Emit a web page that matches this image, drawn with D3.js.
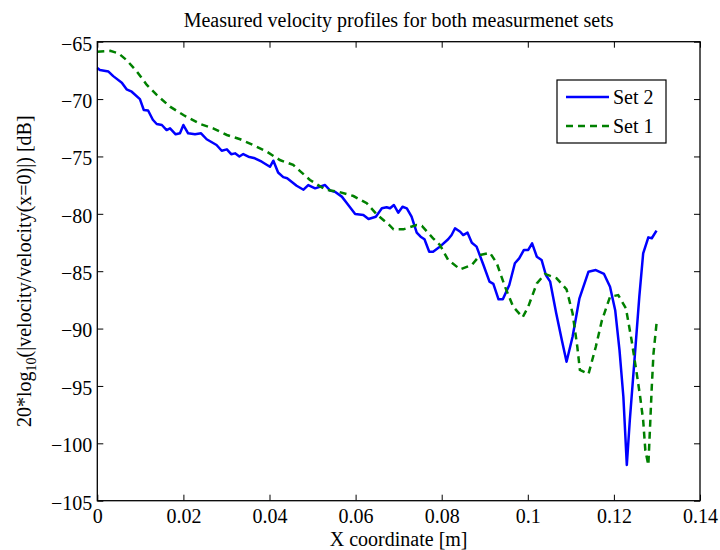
<!DOCTYPE html>
<html>
<head>
<meta charset="utf-8">
<script src="https://cdn.jsdelivr.net/npm/d3@7"></script>
<style>
  body { margin: 0; background: #ffffff; }
  svg text { font-family: "Liberation Serif", "Times New Roman", serif; fill: #000; }
</style>
</head>
<body>
<div id="chart"></div>
<script>
// velocity profiles, values

const set2X = [0, 0.0006, 0.0026, 0.0037, 0.0057, 0.0068, 0.008, 0.0099, 0.0108, 0.0118,
  0.0129, 0.0138, 0.015, 0.0161, 0.0169, 0.0182, 0.0192, 0.02, 0.0211, 0.0227,
  0.0241, 0.0254, 0.0277, 0.0289, 0.0301, 0.0311, 0.032, 0.033, 0.0339, 0.0351,
  0.0366, 0.0382, 0.0401, 0.0409, 0.042, 0.0432, 0.0441, 0.0463, 0.0479, 0.049,
  0.0506, 0.0529, 0.0541, 0.0552, 0.0568, 0.0579, 0.0599, 0.0618, 0.063, 0.0647,
  0.0661, 0.0672, 0.068, 0.0689, 0.0699, 0.0709, 0.0719, 0.073, 0.0742, 0.0751,
  0.076, 0.0771, 0.078, 0.0794, 0.0815, 0.0823, 0.0831, 0.0843, 0.085, 0.086,
  0.087, 0.0881, 0.0897, 0.0911, 0.092, 0.0932, 0.0942, 0.0957, 0.097, 0.098,
  0.0991, 0.1001, 0.101, 0.1021, 0.1032, 0.1042, 0.1052, 0.1066, 0.1079, 0.109,
  0.1104, 0.112, 0.1141, 0.1158, 0.1177, 0.1191, 0.1203, 0.1213, 0.1222, 0.123,
  0.1237, 0.1249, 0.1259, 0.1268, 0.128, 0.1288, 0.1299];
const set2Y = [-67.3, -67.47, -67.6, -68.0, -68.57, -69.15, -69.36, -70.0, -70.95, -71.0,
  -71.8, -72.17, -72.26, -72.7, -72.55, -73.07, -72.98, -72.26, -72.98, -73.07,
  -72.98, -73.5, -74.0, -74.5, -74.38, -74.8, -74.73, -75.0, -74.79, -75.02,
  -75.16, -75.46, -75.9, -75.37, -76.4, -76.8, -76.9, -77.55, -77.9, -77.49,
  -77.78, -77.49, -77.98, -78.07, -78.5, -79.03, -80.02, -80.1, -80.45, -80.25,
  -79.52, -79.43, -79.52, -79.23, -79.9, -79.38, -79.52, -80.25, -81.64, -81.99,
  -82.22, -83.3, -83.3, -82.92, -82.22, -81.85, -81.26, -81.56, -81.85, -81.64,
  -82.52, -82.86, -84.46, -85.91, -86.1, -87.45, -87.45, -86.2, -84.31, -83.88,
  -83.15, -83.15, -82.57, -83.74, -84.02, -85.33, -85.91, -88.67, -91.0, -92.89,
  -90.71, -87.36, -85.04, -84.9, -85.24, -86.35, -88.4, -91.87, -95.94, -101.89,
  -97.97, -92.16, -87.23, -83.44, -82.05, -82.13, -81.47];

const set1X = [0, 0.003, 0.0049, 0.0068, 0.0092, 0.0115, 0.0138, 0.0169, 0.02, 0.0239,
  0.0269, 0.0301, 0.0332, 0.0362, 0.0394, 0.0424, 0.0455, 0.0471, 0.0494, 0.0529,
  0.0562, 0.0595, 0.0626, 0.0649, 0.0678, 0.0688, 0.0711, 0.0742, 0.0754, 0.078,
  0.0796, 0.0815, 0.0843, 0.087, 0.0889, 0.0912, 0.0928, 0.0947, 0.0966, 0.0988,
  0.1001, 0.1021, 0.104, 0.1067, 0.109, 0.1104, 0.1115, 0.1121, 0.1141, 0.1158,
  0.1172, 0.1191, 0.121, 0.1228, 0.1241, 0.1253, 0.1261, 0.1268, 0.1273, 0.128,
  0.1284, 0.1288, 0.1292, 0.13];
const set1Y = [-65.87, -65.8, -66.01, -66.6, -67.6, -68.77, -69.64, -70.66, -71.39, -72.17,
  -72.55, -73.13, -73.5, -74.0, -74.59, -75.31, -75.74, -76.28, -77.05, -77.87,
  -78.1, -78.45, -79.08, -80.04, -80.97, -81.35, -81.35, -80.97, -81.06, -82.13,
  -82.72, -84.02, -84.84, -84.46, -83.59, -83.39, -84.31, -86.35, -88.09, -89.02,
  -88.09, -86.06, -85.24, -85.62, -86.58, -88.67, -91.58, -93.61, -93.96, -91.58,
  -89.31, -87.23, -87.08, -88.24, -91.0, -93.9, -95.94, -98.0, -100.6, -101.89,
  -98.55, -95.07, -92.16, -89.2];

const xTicks = [0, 0.02, 0.04, 0.06, 0.08, 0.1, 0.12, 0.14];
const yTicks = [-65, -70, -75, -80, -85, -90, -95, -100, -105];

const seriesNames = ["Set 2", "Set 1"];

const width = 720, height = 550;
const margin = {top: 41.7, right: 20, bottom: 49.3, left: 97.3};
const fs = "20px";

const svg = d3.select("#chart").append("svg")
  .attr("width", width)
  .attr("height", height);

const x = d3.scaleLinear().domain([0, 0.14]).range([margin.left, width - margin.right]);
const y = d3.scaleLinear().domain([-105, -65]).range([height - margin.bottom, margin.top]);

const fmt = d => d3.format("")(d);

// axes, MATLAB style with ticks pointing inwards on all four sides
svg.append("g")
  .attr("transform", `translate(0,${y(-105)})`)
  .call(d3.axisBottom(x).tickValues(xTicks).tickSize(-6).tickFormat(fmt))
  .call(g => g.select(".domain").remove())
  .call(g => g.selectAll(".tick text").attr("y", 22).attr("dy", 0));
svg.append("g")
  .attr("transform", `translate(0,${y(-65)})`)
  .call(d3.axisTop(x).tickValues(xTicks).tickSize(-6).tickFormat(""))
  .call(g => g.select(".domain").remove());
svg.append("g")
  .attr("transform", `translate(${x(0)},0)`)
  .call(d3.axisLeft(y).tickValues(yTicks).tickSize(-6).tickPadding(5).tickFormat(fmt))
  .call(g => g.select(".domain").remove())
  .call(g => g.selectAll(".tick text").attr("dy", "0.42em"));
svg.append("g")
  .attr("transform", `translate(${x(0.14)},0)`)
  .call(d3.axisRight(y).tickValues(yTicks).tickSize(-6).tickFormat(""))
  .call(g => g.select(".domain").remove());

svg.selectAll(".tick text").style("font-size", fs);
svg.selectAll(".tick line").attr("stroke", "#000").attr("stroke-width", 1);

// lines
const line = d3.line().x(d => x(d[0])).y(d => y(d[1]));

svg.append("path")
  .datum(set2X.map((v, i) => [v, set2Y[i]]))
  .attr("d", line)
  .attr("fill", "none")
  .attr("stroke", "#0000ff")
  .attr("stroke-width", 2.5)
  .attr("stroke-linejoin", "round");

svg.append("path")
  .datum(set1X.map((v, i) => [v, set1Y[i]]))
  .attr("d", line)
  .attr("fill", "none")
  .attr("stroke", "#008000")
  .attr("stroke-width", 2.5)
  .attr("stroke-dasharray", "7,5");

// box
svg.append("rect")
  .attr("x", x(0)).attr("y", y(-65))
  .attr("width", x(0.14) - x(0)).attr("height", y(-105) - y(-65))
  .attr("fill", "none").attr("stroke", "#000").attr("stroke-width", 1.3);

// title and labels
svg.append("text")
  .attr("x", (x(0) + x(0.14)) / 2).attr("y", 26.5)
  .attr("text-anchor", "middle").style("font-size", fs)
  .text("Measured velocity profiles for both measurmenet sets");

svg.append("text")
  .attr("x", (x(0) + x(0.14)) / 2).attr("y", 546)
  .attr("text-anchor", "middle").style("font-size", fs)
  .text("X coordinate [m]");

const yl = svg.append("text")
  .attr("transform", `translate(31,${(y(-65) + y(-105)) / 2}) rotate(-90)`)
  .attr("text-anchor", "middle").style("font-size", fs);
yl.append("tspan").text("20*log");
yl.append("tspan").attr("dy", 5).style("font-size", "14px").text("10");
yl.append("tspan").attr("dy", -5).text("(|velocity/velocity(x=0)|) [dB]");

// legend
const lg = svg.append("g").attr("transform", "translate(557,80)");
lg.append("rect").attr("width", 109).attr("height", 63)
  .attr("fill", "#fff").attr("stroke", "#000").attr("stroke-width", 1.2);
const styles = [{c: "#0000ff", d: null}, {c: "#008000", d: "7,5"}];
seriesNames.forEach((n, i) => {
  const yy = 17 + i * 29;
  lg.append("line").attr("x1", 9).attr("x2", 52).attr("y1", yy).attr("y2", yy)
    .attr("stroke", styles[i].c).attr("stroke-width", 2.5)
    .attr("stroke-dasharray", styles[i].d);
  lg.append("text").attr("x", 56).attr("y", yy + 7)
    .style("font-size", fs).text(n);
});
</script>
</body>
</html>
